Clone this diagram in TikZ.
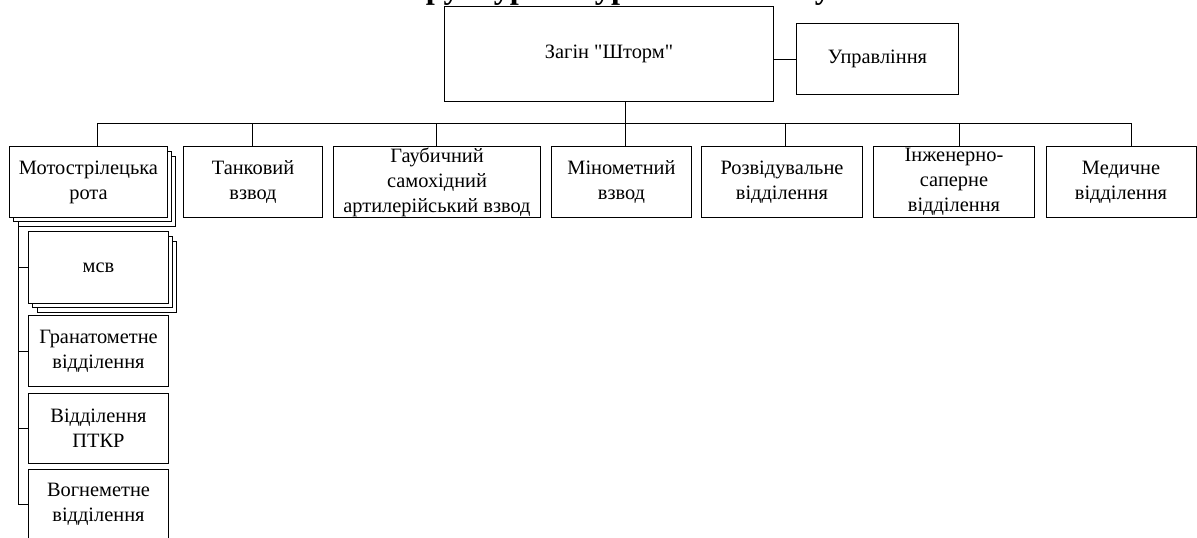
\documentclass[tikz,border=0pt]{standalone}
\usepackage{fontspec}
\setmainfont{Liberation Serif}
\usetikzlibrary{shadows,backgrounds}
\tikzset{
	unit/.style={draw, fill=white, line width=0.7pt, align=center, inner sep=0pt, minimum height=1.75cm, font=\fontsize{14.5}{17.8}\selectfont},
	stack/.style={copy shadow={shadow xshift=0.2125cm, shadow yshift=-0.225cm}, copy shadow={shadow xshift=0.1cm, shadow yshift=-0.11cm}},
	link/.style={line width=0.7pt}
}

\begin{document}
\begin{tikzpicture}[x=0.025cm, y=-0.025cm]
		%%%%% START %%%%%
		\useasboundingbox (0, 0) rectangle (1197, 538);
		
		\node[anchor=base, font=\bfseries\fontsize{23}{27}\selectfont] (title) at (609, -1.5) {Структура штурмового загону};
		
		\node[unit, minimum width=8.2cm, minimum height=2.35cm] (zagin) at (609, 54) {Загін \textquotedbl Шторм\textquotedbl};
		\node[unit, minimum width=4.025cm] (upr) at (877.5, 59) {Управління};
		
		\node[unit, stack, minimum width=3.925cm] (rota) at (88.5, 182) {Мотострілецька\\рота};
		\node[unit, minimum width=3.45cm] (tank) at (253, 182) {Танковий\\взвод};
		\node[unit, minimum width=5.15cm] (gaub) at (437, 182) {Гаубичний\\самохідний\\артилерійський взвод};
		\node[unit, minimum width=3.475cm] (minom) at (621.5, 182) {Мінометний\\взвод};
		\node[unit, minimum width=4.0cm] (rozv) at (782, 182) {Розвідувальне\\відділення};
		\node[unit, minimum width=4.0cm] (inzh) at (954, 182) {Інженерно-\\саперне\\відділення};
		\node[unit, minimum width=3.75cm] (med) at (1121, 182) {Медичне\\відділення};
		
		\node[unit, stack, minimum width=3.475cm, minimum height=1.775cm] (msv) at (98.5, 267.5) {мсв};
		\node[unit, minimum width=3.475cm] (gran) at (98.5, 351) {Гранатометне\\відділення};
		\node[unit, minimum width=3.475cm] (ptkr) at (98.5, 428) {Відділення\\ПТКР};
		\node[unit, minimum width=3.475cm] (vohn) at (98.5, 504) {Вогнеметне\\відділення};
		
		\begin{scope}[on background layer]
		\coordinate (bus) at (0, 123);
		\coordinate (col) at (18, 0);
		
		\draw[link] (upr.west) -- (upr.west -| zagin.east);
		\draw[link] (minom.north) ++(3.5, 0) coordinate (trunk) -- (trunk |- zagin.south);
		
		\path (rota.north) ++(8.5, 0) coordinate (busL) (med.north) ++(10, 0) coordinate (busR);
		\draw[link] (busL |- bus) -- (busR |- bus);
		\foreach \n/\dx in {rota/8.5, tank/-1, gaub/-1, rozv/3, inzh/5, med/10}
			\draw[link] (\n.north) ++(\dx, 0) coordinate (top) -- (top |- bus);
		
		\draw[link] (col |- rota.south) |- (vohn.west);
		\foreach \n in {msv, gran, ptkr}
			\draw[link] (col |- \n.west) -- (\n.west);
		\end{scope}
		
		%%%%% END %%%%%
\end{tikzpicture}
\end{document}
